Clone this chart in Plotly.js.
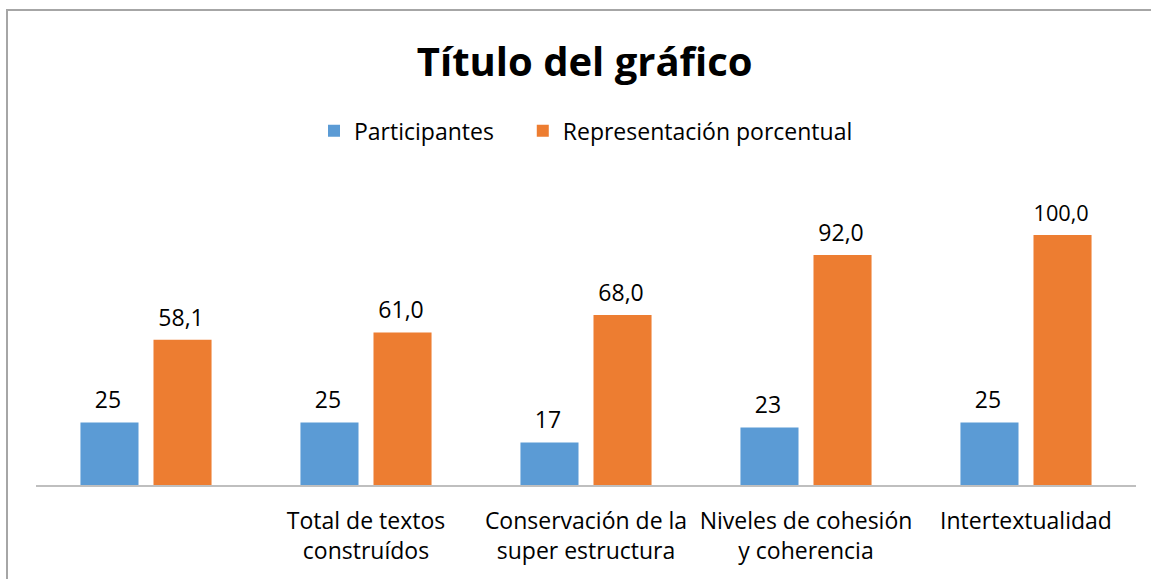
<!DOCTYPE html>
<html>
<head>
<meta charset="utf-8">
<script src="https://cdn.plot.ly/plotly-3.0.1.min.js"></script>
<style>
  html, body { margin: 0; padding: 0; background: #fff; overflow: hidden; }
  #wrap { position: relative; width: 1151px; height: 579px; }
  #chart { position: absolute; left: 0; top: 0; width: 1151px; height: 579px; }
  #frame { position: absolute; left: 6px; top: 9px; width: 1200px; height: 700px;
           border-left: 2px solid #a6a6a6; border-top: 2px solid #a6a6a6; pointer-events: none; }
</style>
</head>
<body>
<div id="wrap">
  <div id="chart"></div>
  <div id="frame"></div>
</div>
<script>
const categories = ["", "Total de textos<br>construídos", "Conservación de la<br>super estructura", "Niveles de cohesión<br>y coherencia", "Intertextualidad"];
const participantes = [25, 25, 17, 23, 25];
const porcentaje = [58.1, 61.0, 68.0, 92.0, 100.0];
const seriesNames = ["Participantes", "Representación porcentual"];

const xIdx = categories.map((_, i) => i);
const FONT = "'Open Sans', sans-serif";
const PAD = "<sub><sub>\u00a0</sub></sub>";
const GAP = "\u00a0\u00a0\u00a0\u00a0";

const traces = [
  {
    type: "bar", name: seriesNames[0] + GAP, x: xIdx, y: participantes,
    marker: { color: "#5b9bd5" },
    texttemplate: "%{y}" + PAD, textposition: "outside", cliponaxis: false,
    textfont: { family: FONT, size: 23, color: "#000" }
  },
  {
    type: "bar", name: seriesNames[1], x: xIdx, y: porcentaje,
    marker: { color: "#ed7d31" },
    texttemplate: "%{y:.1f}" + PAD, textposition: "outside", cliponaxis: false,
    textfont: { family: FONT, size: 23, color: "#000" }
  }
];

const layout = {
  width: 1151, height: 579,
  margin: { l: 36, r: 15, t: 185, b: 94, autoexpand: false },
  paper_bgcolor: "#fff", plot_bgcolor: "#fff",
  separators: ",.",
  font: { family: FONT, color: "#000" },
  title: { text: "<b>Título del gráfico</b>", font: { family: FONT, size: 40, color: "#000" },
           x: 0.508, xanchor: "center", yref: "container", y: 0.893, yanchor: "middle" },
  showlegend: true,
  legend: { orientation: "h", x: 0.5, xanchor: "center", yref: "container", y: 0.774, yanchor: "middle",
            font: { family: FONT, size: 23, color: "#000" }, itemwidth: 30, traceorder: "normal" },
  barmode: "group", bargap: 0.336, bargroupgap: 0.205,
  xaxis: {
    tickmode: "array", tickvals: xIdx, ticktext: categories,
    range: [-0.5, 4.5], showgrid: false, zeroline: false,
    showline: true, linecolor: "#bfbfbf", linewidth: 1.5, ticks: "",
    ticklabelstandoff: 15,
    tickfont: { family: FONT, size: 23, color: "#000" }
  },
  yaxis: {
    range: [0, 120], visible: false, showgrid: false, zeroline: false
  }
};

Plotly.newPlot("chart", traces, layout, { staticPlot: true, displayModeBar: false });
</script>
</body>
</html>
